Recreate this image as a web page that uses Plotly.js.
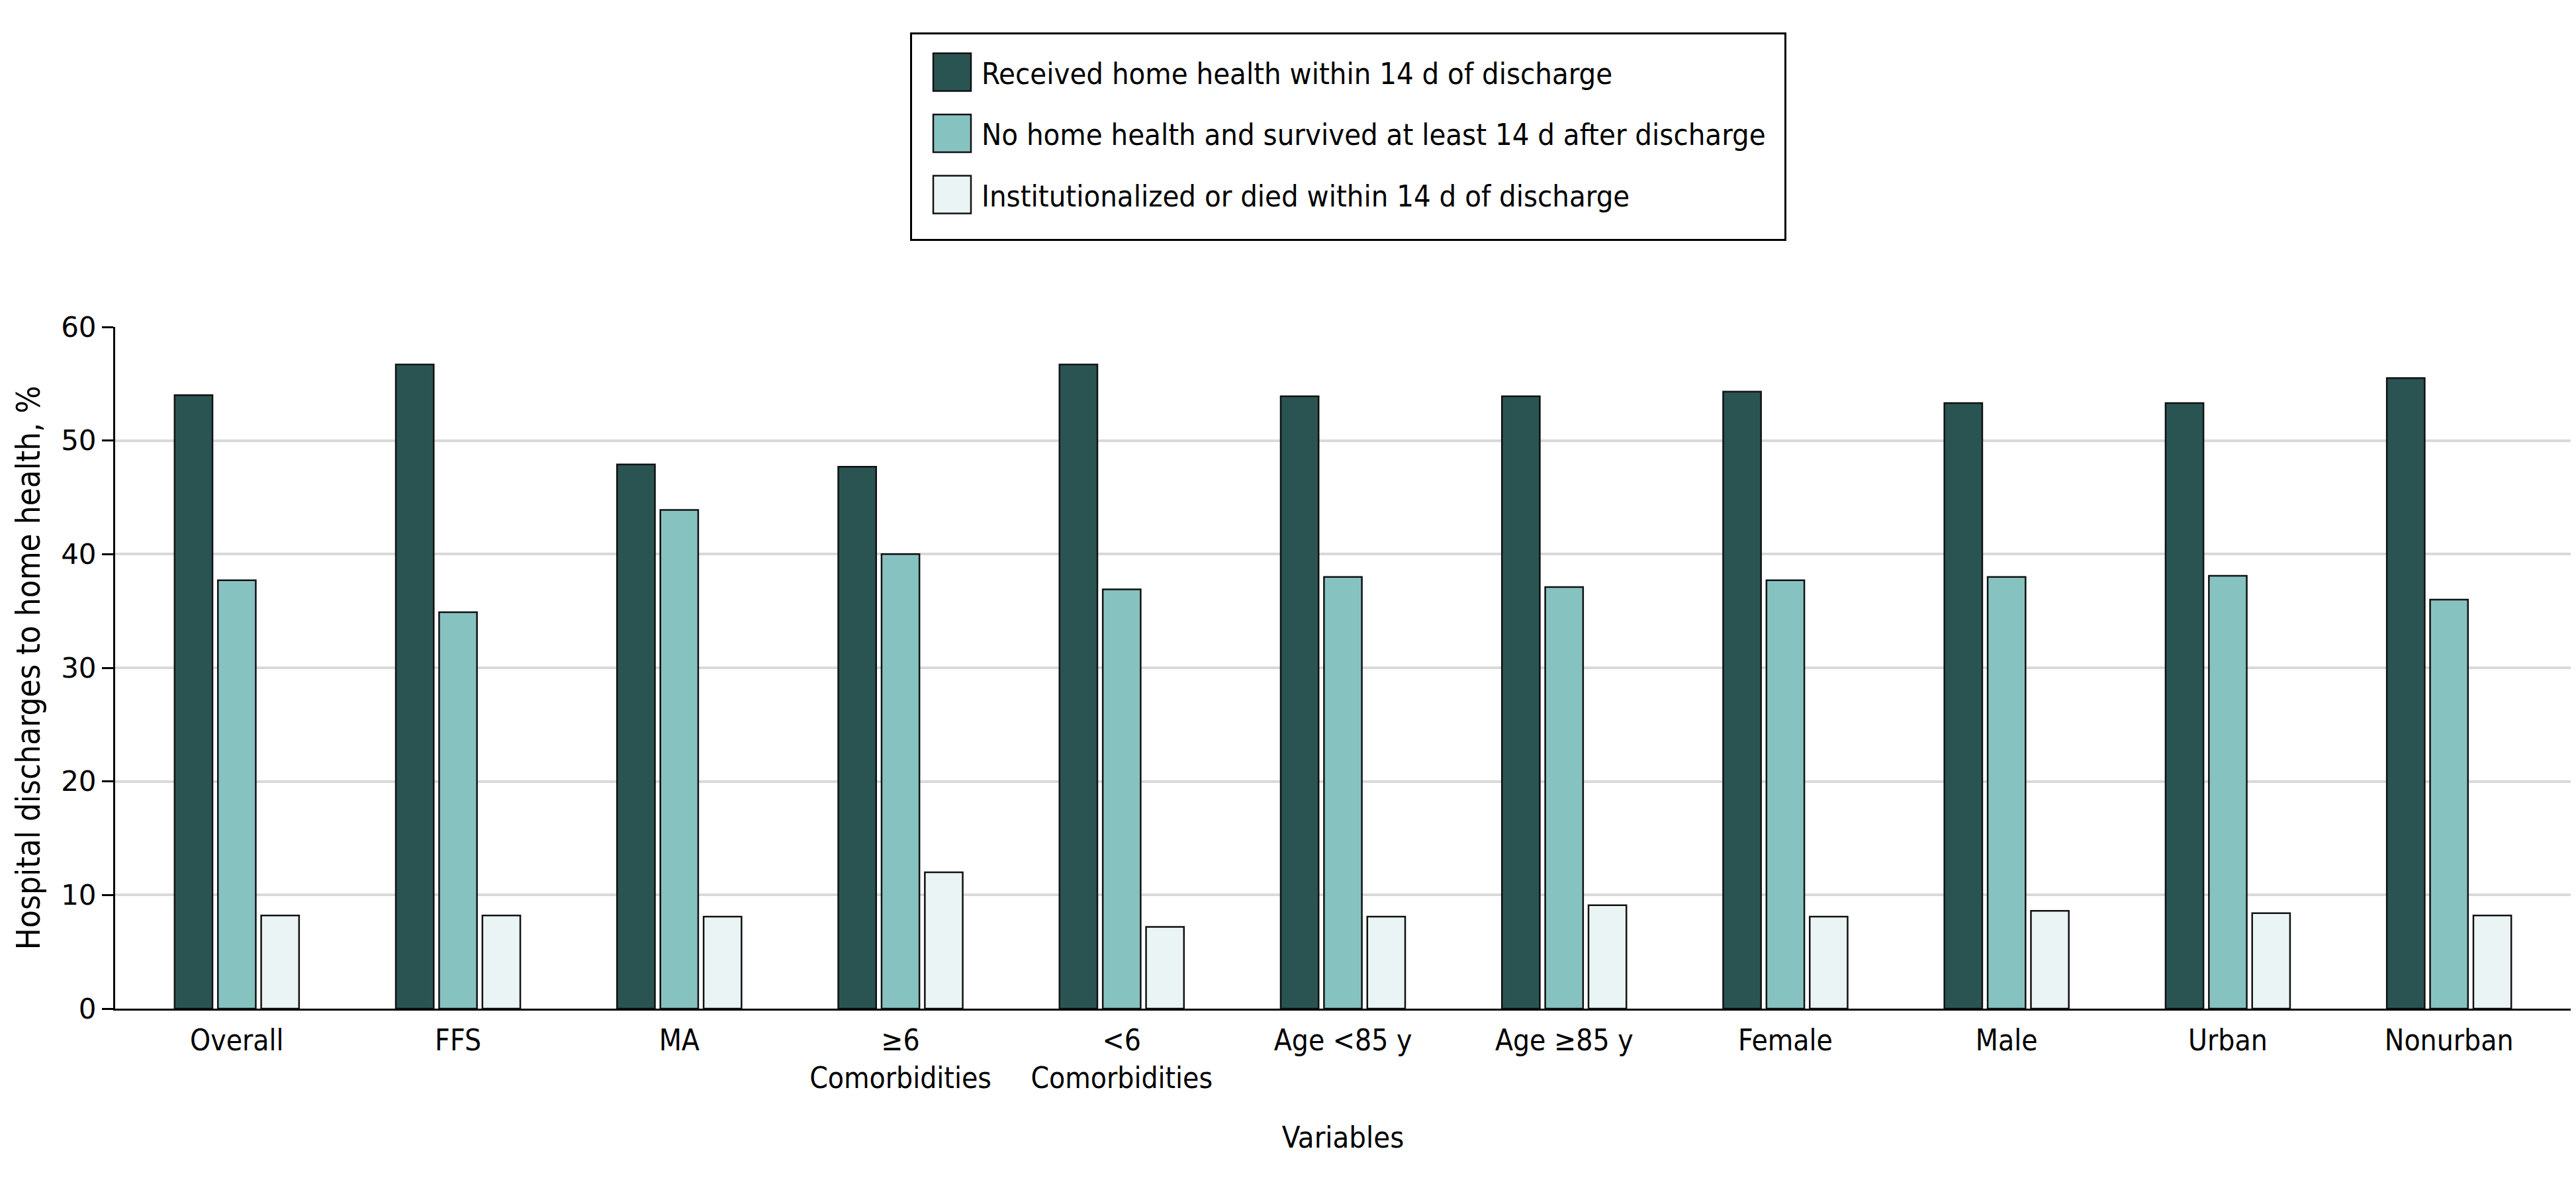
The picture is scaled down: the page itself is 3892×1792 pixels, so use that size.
<!DOCTYPE html>
<html>
<head>
<meta charset="utf-8">
<script src="https://cdn.plot.ly/plotly-3.0.1.min.js"></script>
<style>
  html, body { margin: 0; padding: 0; background: #ffffff; }
  #chart { width: 3892px; height: 1792px; }
</style>
</head>
<body>
<div id="chart"></div>
<script>
// Categories (x axis)
const categories = ['Overall', 'FFS', 'MA', '≥6 Comorbidities', '<6 Comorbidities',
  'Age <85 y', 'Age ≥85 y', 'Female', 'Male', 'Urban', 'Nonurban'];
// Tick labels as displayed (two-line where wrapped)
const tickLabels = ['Overall', 'FFS', 'MA', '≥6<br>Comorbidities', '&lt;6<br>Comorbidities',
  'Age &lt;85 y', 'Age ≥85 y', 'Female', 'Male', 'Urban', 'Nonurban'];

// Series names
const seriesNames = [
  'Received home health within 14 d of discharge',
  'No home health and survived at least 14 d after discharge',
  'Institutionalized or died within 14 d of discharge'
];

// Series values (%)
const receivedHH = [54.0, 56.7, 47.9, 47.7, 56.7, 53.9, 53.9, 54.3, 53.3, 53.3, 55.5];
const noHHSurvived = [37.7, 34.9, 43.9, 40.0, 36.9, 38.0, 37.1, 37.7, 38.0, 38.1, 36.0];
const instOrDied = [8.2, 8.2, 8.1, 12.0, 7.2, 8.1, 9.1, 8.1, 8.6, 8.4, 8.2];

// Y axis ticks
const yTicks = [0, 10, 20, 30, 40, 50, 60];

const colors = ['#2a5452', '#86c2c0', '#eaf4f4'];
const seriesValues = [receivedHH, noHHSurvived, instOrDied];

const narrow = '"Liberation Sans Narrow", "DejaVu Sans Condensed", "Arial Narrow", sans-serif';

const traces = seriesValues.map((vals, i) => ({
  type: 'bar',
  name: seriesNames[i],
  x: categories,
  y: vals,
  legendgroup: 'g' + i,
  marker: { color: colors[i], line: { color: '#111111', width: 2.5 } },
  hoverinfo: 'x+y+name'
}));

const layout = {
  width: 3892,
  height: 1792,
  paper_bgcolor: '#ffffff',
  plot_bgcolor: '#ffffff',
  margin: { l: 174, r: 8, t: 494, b: 268, pad: 0 },
  barmode: 'group',
  bargap: 0.413,
  bargroupgap: 0.125,
  font: { family: narrow, color: '#000000', size: 45 },
  xaxis: {
    type: 'category',
    range: [-0.55, 10.55],
    tickvals: categories,
    ticktext: tickLabels,
    tickfont: { family: narrow, size: 44, color: '#000000' },
    ticks: '',
    ticklabelstandoff: 7,
    showline: true,
    linecolor: '#000000',
    linewidth: 3,
    showgrid: false,
    zeroline: false,
    title: { text: 'Variables', font: { family: narrow, size: 45, color: '#000000' }, standoff: 50 }
  },
  yaxis: {
    range: [0, 60],
    tickvals: yTicks,
    ticktext: yTicks.map(String),
    tickfont: { family: '"DejaVu Sans", sans-serif', size: 42, color: '#000000' },
    ticks: 'outside',
    ticklen: 17,
    tickwidth: 3,
    tickcolor: '#000000',
    showline: true,
    linecolor: '#000000',
    linewidth: 3,
    showgrid: true,
    gridcolor: '#d9d9d9',
    gridwidth: 4,
    zeroline: false,
    title: { text: 'Hospital discharges to home health, %', font: { family: narrow, size: 49, color: '#000000' }, standoff: 16 }
  },
  showlegend: true,
  legend: {
    x: 0.3243,
    xanchor: 'left',
    y: 1.431,
    yanchor: 'top',
    orientation: 'v',
    bordercolor: '#000000',
    borderwidth: 3,
    bgcolor: '#ffffff',
    font: { family: narrow, size: 45, color: '#000000' },
    itemwidth: 95,
    tracegroupgap: 31,
    traceorder: 'grouped'
  }
};

Plotly.newPlot('chart', traces, layout, { displayModeBar: false, staticPlot: true }).then(() => {
  const leg = document.querySelector('.legend');
  if (!leg) return;
  // Enlarge the legend swatches to match the reference's large squares
  leg.querySelectorAll('.legendpoints path').forEach(p => {
    p.setAttribute('d', 'M36.5,28.5H-20.5V-28.5H36.5Z');
  });
  // Place the legend box like the reference (box 1377..right, 50..362; first swatch centre at y=109, left at 1410)
  const pts = [...leg.querySelectorAll('.legendpoints path')];
  const texts = [...leg.querySelectorAll('text.legendtext')];
  if (!pts.length) return;
  const r0 = pts[0].getBoundingClientRect();
  const m = (leg.getAttribute('transform') || '').match(/translate\(\s*([-\d.]+)[ ,]+([-\d.]+)/);
  let tx = m ? parseFloat(m[1]) : 0, ty = m ? parseFloat(m[2]) : 0;
  const dx = 1410 - r0.left;
  const dy = 109 - (r0.top + r0.height / 2);
  tx += dx; ty += dy;
  leg.setAttribute('transform', 'translate(' + tx + ',' + ty + ')');
  let textRight = 0;
  texts.forEach(t => { textRight = Math.max(textRight, t.getBoundingClientRect().right); });
  const bg = leg.querySelector('rect.bg');
  if (bg) {
    const boxLeft = 1377, boxTop = 50, boxBottom = 362;
    const boxRight = textRight + 30;
    bg.setAttribute('x', boxLeft - tx);
    bg.setAttribute('y', boxTop - ty);
    bg.setAttribute('width', boxRight - boxLeft);
    bg.setAttribute('height', boxBottom - boxTop);
  }
});
</script>
</body>
</html>
